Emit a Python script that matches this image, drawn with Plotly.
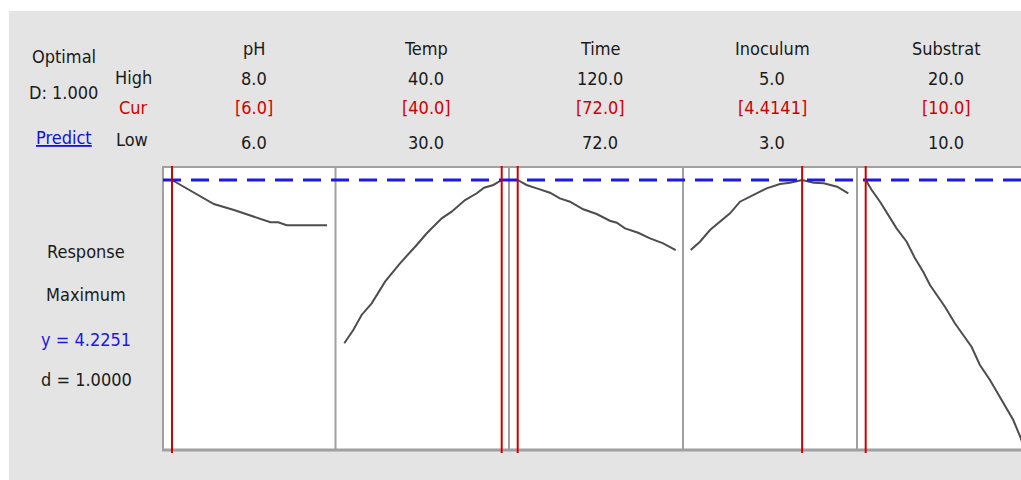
import plotly.graph_objects as go

W, H = 1021, 480

# ---- data ----
factors = ["pH", "Temp", "Time", "Inoculum", "Substrat"]
high_labels = ["8.0", "40.0", "120.0", "5.0", "20.0"]
cur_labels = ["[6.0]", "[40.0]", "[72.0]", "[4.4141]", "[10.0]"]
low_labels = ["6.0", "30.0", "72.0", "3.0", "10.0"]
cur_values = [6.0, 40.0, 72.0, 4.4141, 10.0]
y_optimal = 4.2251

ph_x = [6.0, 6.19, 6.36, 6.54, 6.8, 7.05, 7.27, 7.37, 7.48, 8.0]
ph_y = [4.2251, 4.121, 4.025, 3.925, 3.850, 3.766, 3.697, 3.697, 3.659, 3.659]

temp_x = [30.0, 30.57, 31.1, 31.74, 32.59, 33.54, 34.6, 35.24, 36.19, 36.82, 37.67, 38.42, 38.88, 39.47, 40.0]
temp_y = [2.184, 2.350, 2.538, 2.684, 2.954, 3.184, 3.413, 3.559, 3.746, 3.829, 3.975, 4.059, 4.129, 4.163, 4.2251]

time_x = [72.0, 74.7, 77.8, 81.8, 84.8, 87.9, 91.9, 96.0, 100.0, 102.1, 104.6, 108.6, 112.2, 116.2, 120.0]
time_y = [4.2251, 4.163, 4.121, 4.066, 3.996, 3.954, 3.859, 3.800, 3.716, 3.691, 3.621, 3.566, 3.496, 3.434, 3.350]

inoc_x = [3.0, 3.118, 3.245, 3.372, 3.499, 3.626, 3.753, 3.858, 3.964, 4.133, 4.26, 4.4141, 4.561, 4.688, 4.858, 5.0]
inoc_y = [3.350, 3.454, 3.600, 3.704, 3.809, 3.954, 4.016, 4.066, 4.121, 4.175, 4.191, 4.2251, 4.191, 4.184, 4.141, 4.059]

sub_x = [10.0, 10.38, 10.91, 11.43, 11.96, 12.60, 13.13, 13.65, 14.08, 15.03, 15.66, 16.72, 17.25, 17.89, 18.73, 19.37, 19.81, 20.0]
sub_y = [4.2251, 4.100, 3.954, 3.788, 3.621, 3.454, 3.246, 3.079, 2.913, 2.641, 2.434, 2.141, 1.913, 1.725, 1.434, 1.225, 1.016, 0.913]

curves = [(ph_x, ph_y), (temp_x, temp_y), (time_x, time_y), (inoc_x, inoc_y), (sub_x, sub_y)]

# ---- layout helpers (reference pixel coords -> paper) ----
def px(x):
    return x / W

def py(y):
    return 1 - y / H

panel_edges = [163, 335.5, 509, 683, 857, 1021]
x_ranges = [[5.8839, 8.1097], [29.441, 40.464], [69.357, 122.218], [2.9023, 5.1104], [9.4476, 19.860]]
y_range = [0.8501, 4.3876]
plot_top, plot_bot = 167, 450

FONT = "DejaVu Sans Condensed, DejaVu Sans, sans-serif"
FS = 18
GRAY_BG = "#e4e4e4"
BORDER = "#a0a0a0"
RED = "#d00000"
BLUE = "#1a1ae6"
TXT = "#1a1a1a"

fig = go.Figure()

for i, (cx, cy) in enumerate(curves):
    sfx = "" if i == 0 else str(i + 1)
    fig.add_trace(go.Scatter(x=cx, y=cy, mode="lines",
                             line=dict(color="#4d4d4d", width=2),
                             xaxis="x" + sfx, yaxis="y", showlegend=False,
                             hoverinfo="skip"))

layout = dict(
    width=W, height=H,
    margin=dict(l=0, r=0, t=0, b=0),
    paper_bgcolor="white",
    plot_bgcolor="white",
    showlegend=False,
    yaxis=dict(domain=[py(plot_bot), py(plot_top)], range=y_range,
               showgrid=False, zeroline=False, showticklabels=False,
               ticks="", showline=False, anchor="x"),
)
for i in range(5):
    key = "xaxis" if i == 0 else "xaxis%d" % (i + 1)
    layout[key] = dict(domain=[px(panel_edges[i]), px(panel_edges[i + 1])],
                       range=x_ranges[i], showgrid=False, zeroline=False,
                       showticklabels=False, ticks="", showline=False,
                       anchor="y")
fig.update_layout(**layout)

shapes = []
# gray background
shapes.append(dict(type="rect", xref="paper", yref="paper", layer="below",
                   x0=px(9), x1=1, y0=0, y1=py(11),
                   fillcolor=GRAY_BG, line=dict(width=0)))
# white plotting area
shapes.append(dict(type="rect", xref="paper", yref="paper", layer="below",
                   x0=px(163), x1=1, y0=py(plot_bot), y1=py(plot_top),
                   fillcolor="white", line=dict(width=0)))
# panel borders
for e in panel_edges[:-1]:
    shapes.append(dict(type="line", xref="paper", yref="paper",
                       x0=px(e), x1=px(e), y0=py(plot_bot), y1=py(plot_top),
                       line=dict(color=BORDER, width=2)))
shapes.append(dict(type="line", xref="paper", yref="paper",
                   x0=px(162), x1=1, y0=py(plot_top), y1=py(plot_top),
                   line=dict(color=BORDER, width=2)))
shapes.append(dict(type="line", xref="paper", yref="paper",
                   x0=px(162), x1=1, y0=py(plot_bot), y1=py(plot_bot),
                   line=dict(color=BORDER, width=3)))
# blue dashed optimum line
shapes.append(dict(type="line", xref="paper", yref="y",
                   x0=px(163), x1=1, y0=y_optimal, y1=y_optimal,
                   line=dict(color=BLUE, width=3, dash="18px,10px")))
# red current-setting lines
for i, v in enumerate(cur_values):
    sfx = "" if i == 0 else str(i + 1)
    shapes.append(dict(type="line", xref="x" + sfx, yref="paper",
                       x0=v, x1=v, y0=py(453), y1=py(166),
                       line=dict(color=RED, width=2)))
fig.update_layout(shapes=shapes)

ann = []

def text(s, x, y, color=TXT, size=FS):
    ann.append(dict(text=s, x=px(x), y=py(y), xref="paper", yref="paper",
                    showarrow=False, xanchor="center", yanchor="middle",
                    font=dict(family=FONT, size=size, color=color)))

col_centers = [254, 426, 600, 772, 946]
for i in range(5):
    text(factors[i], col_centers[i], 49)
    text(high_labels[i], col_centers[i], 79)
    text(cur_labels[i], col_centers[i], 108, color=RED)
    text(low_labels[i], col_centers[i], 143)

text("Optimal", 64, 56)
text("D: 1.000", 63, 93)
text("<u>Predict</u>", 64, 137, color="#1010e0")
text("High", 133, 77)
text("Cur", 133, 108, color=RED)
text("Low", 132, 139)

text("Response", 86, 251)
text("Maximum", 86, 294)
text("y = 4.2251", 86, 339, color=BLUE)
text("d = 1.0000", 86, 379)

fig.update_layout(annotations=ann)

fig.write_html("out.html",
               config={"displayModeBar": False},
               post_script="document.body.style.margin='0';"
                           "document.body.style.overflow='hidden';")
